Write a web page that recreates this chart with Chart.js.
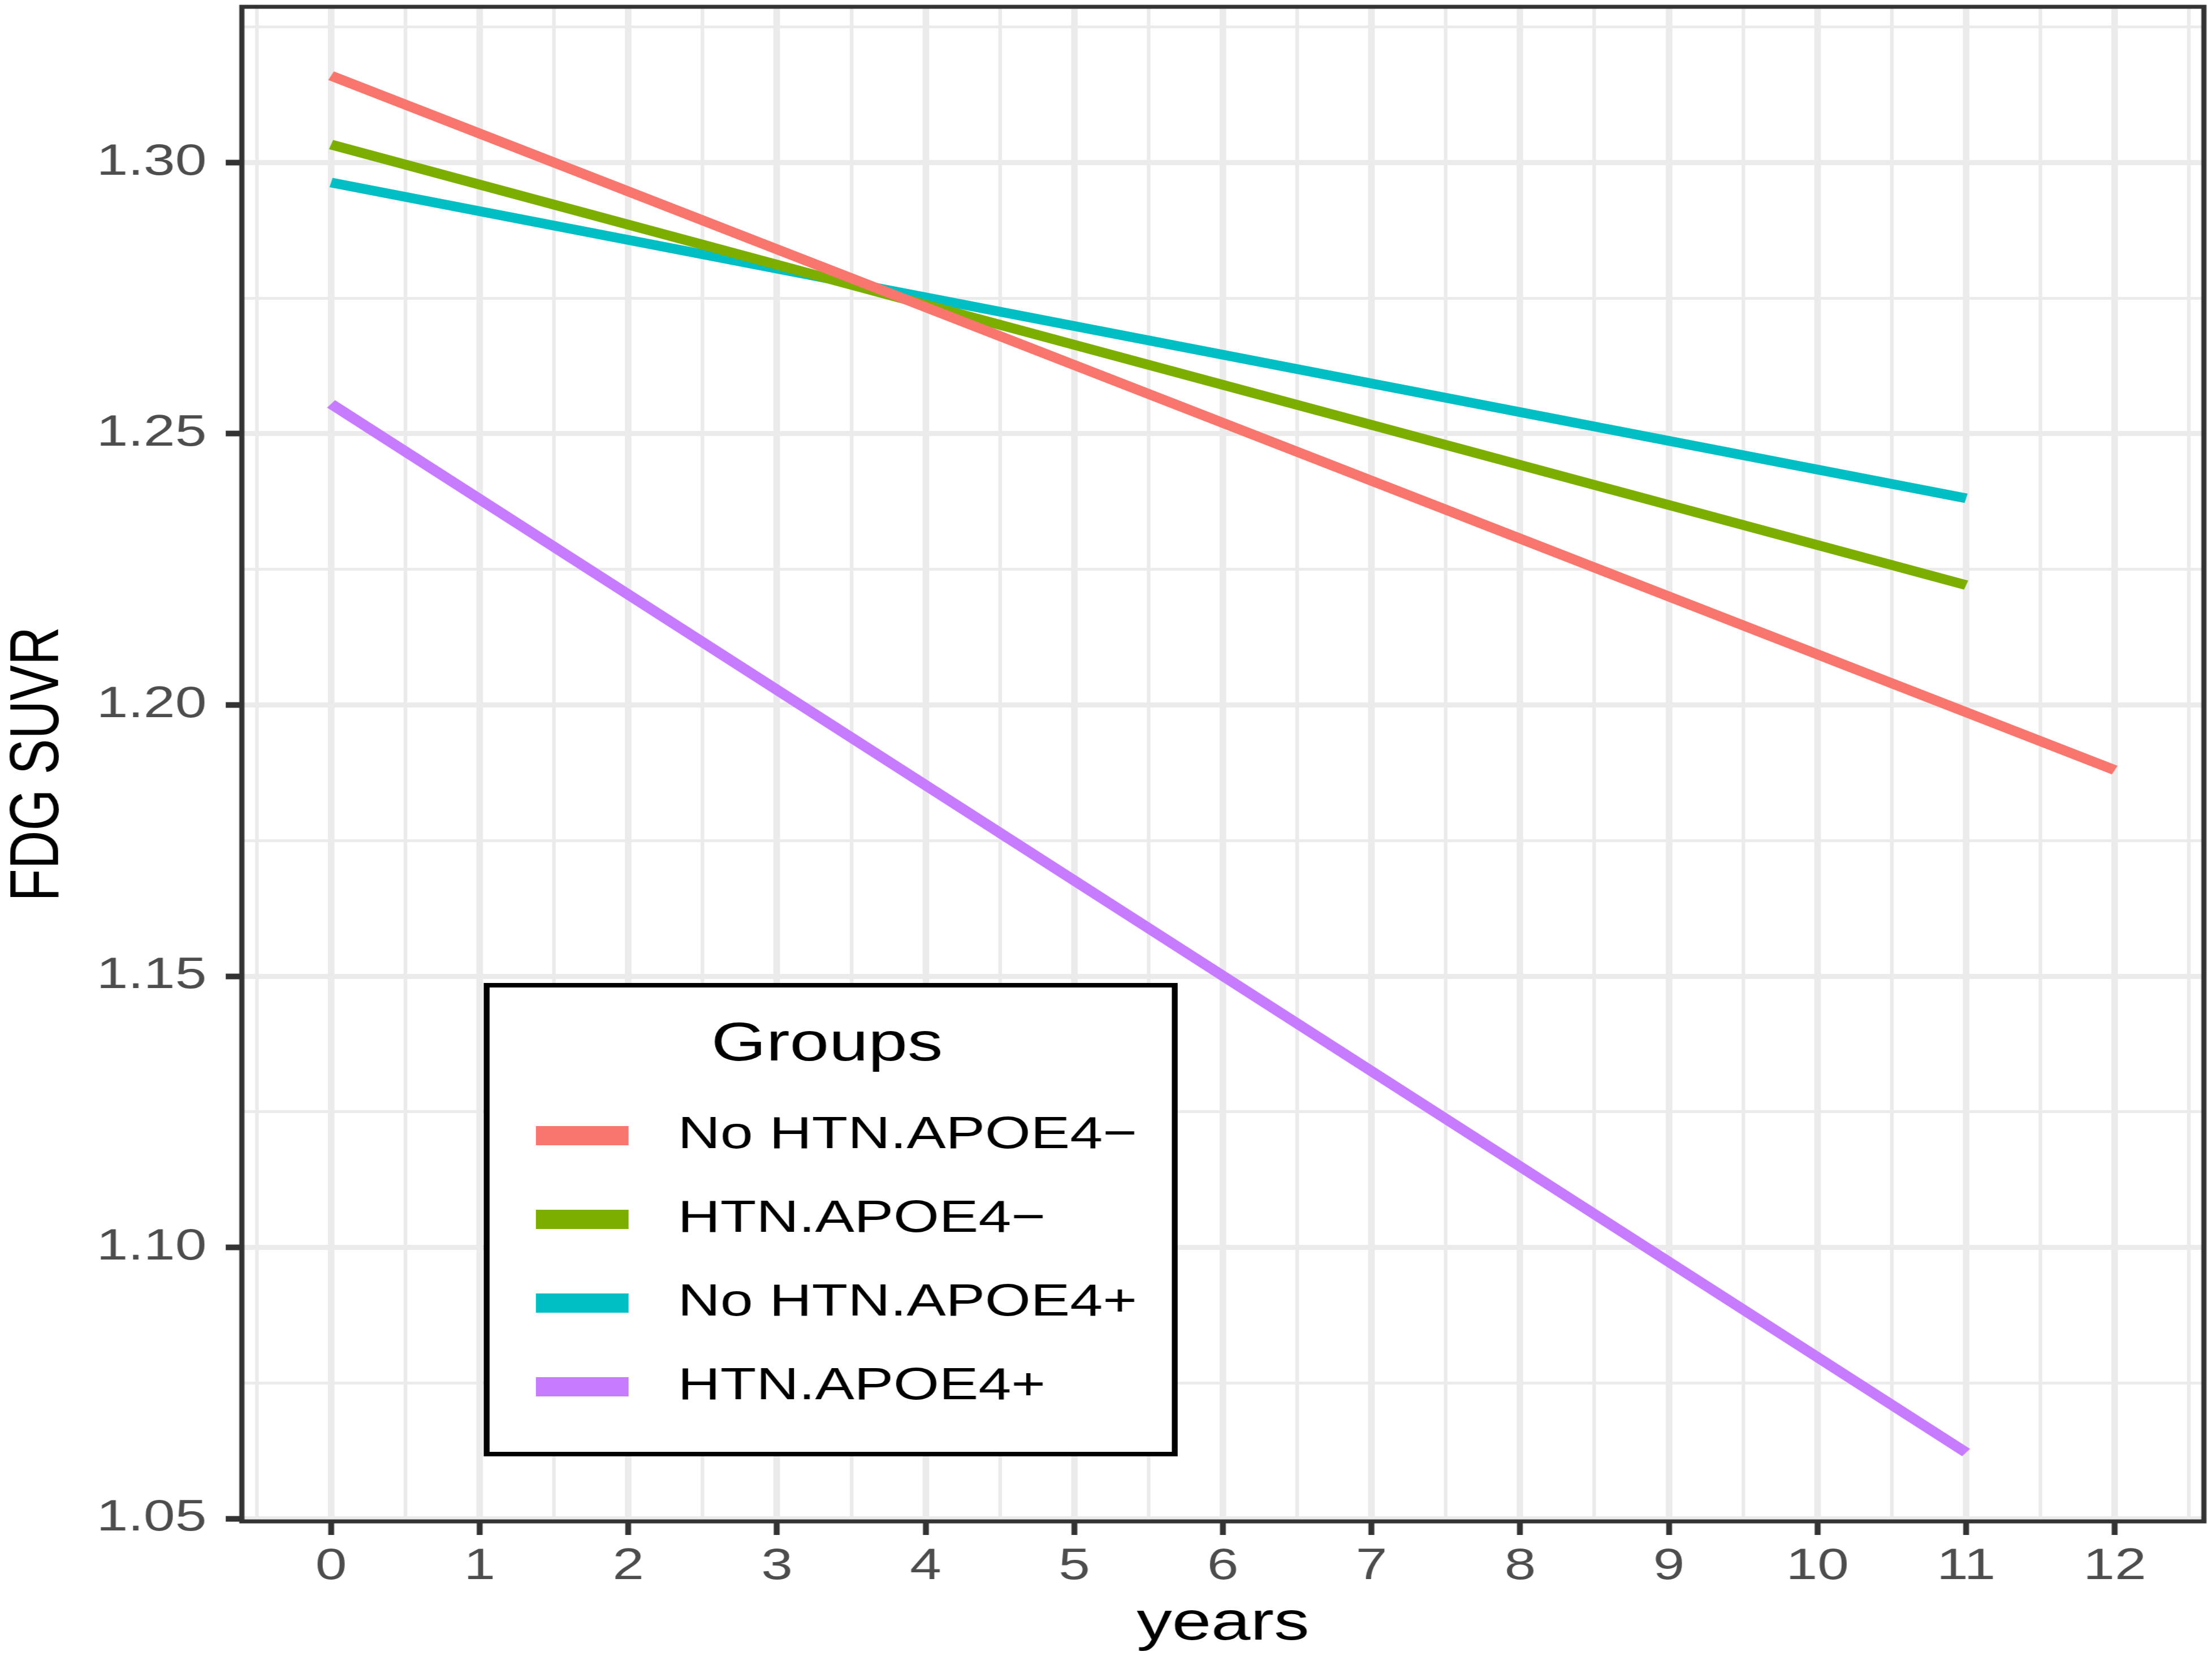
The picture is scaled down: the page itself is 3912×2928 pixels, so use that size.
<!DOCTYPE html>
<html>
<head>
<meta charset="utf-8">
<title>FDG SUVR by years</title>
<script src="https://cdn.jsdelivr.net/npm/chart.js@4.4.1/dist/chart.umd.min.js"></script>
<style>
  html, body { margin: 0; padding: 0; background: #ffffff; }
  /* the reference is stretched sideways, so the canvas is drawn narrower and scaled up by css */
  #fdg { display: block; width: 3912px; height: 2928px; }
</style>
</head>
<body>
<canvas id="fdg" width="3009" height="2928" style="width:3912px;height:2928px"></canvas>
<script>
// fitted lines at their two ends
const groups = ['No HTN.APOE4\u2212', 'HTN.APOE4\u2212', 'No HTN.APOE4+', 'HTN.APOE4+'];
const groupColors = ['#F8766D', '#7CAE00', '#00BFC4', '#C77CFF'];

const noHtnNegYears = [0, 12];
const noHtnNegSuvr = [1.316, 1.188];
const htnNegYears = [0, 11];
const htnNegSuvr = [1.3033, 1.2221];
const noHtnPosYears = [0, 11];
const noHtnPosSuvr = [1.2963, 1.2381];
const htnPosYears = [0, 11];
const htnPosSuvr = [1.2555, 1.0622];

const xTickLabels = ['0', '1', '2', '3', '4', '5', '6', '7', '8', '9', '10', '11', '12'];
const yTickLabels = ['1.05', '1.10', '1.15', '1.20', '1.25', '1.30'];

const xRange = [-0.6, 12.6];
const yRange = [1.0495, 1.3287];

const FONT = '"Liberation Sans", Arial, Helvetica, sans-serif';

const toPoints = (xs, ys) => xs.map((x, i) => ({ x: x, y: ys[i] }));
const seriesX = [noHtnNegYears, htnNegYears, noHtnPosYears, htnPosYears];
const seriesY = [noHtnNegSuvr, htnNegSuvr, noHtnPosSuvr, htnPosSuvr];

// major ticks from the labels, minor ones halfway between (ggplot style)
function gridTicks(labels, lo, hi) {
    const major = labels.map(Number);
    const step = major[1] - major[0];
    const minor = major.map(v => v - step / 2).concat([major[major.length - 1] + step / 2]);
    const all = major.concat(minor).filter(v => v >= lo && v <= hi);
    all.sort((a, b) => a - b);
    return { major, all };
}
const xGrid = gridTicks(xTickLabels, xRange[0], xRange[1]);
const yGrid = gridTicks(yTickLabels, yRange[0], yRange[1]);

const isMajor = (list, v) => list.some(m => Math.abs(m - v) < 1e-9);
const labelFor = (list, labels, v) => {
    const i = list.findIndex(m => Math.abs(m - v) < 1e-9);
    return i < 0 ? '' : labels[i];
};

const panelBorder = {
    id: 'panelBorder',
    afterDatasetsDraw(chart) {
        const a = chart.chartArea;
        const ctx = chart.ctx;
        ctx.save();
        ctx.strokeStyle = '#333333';
        ctx.lineWidth = 7;
        ctx.strokeRect(a.left, a.top, a.right - a.left, a.bottom - a.top);
        ctx.restore();
    }
};

const groupsLegend = {
    id: 'groupsLegend',
    afterDraw(chart) {
        const ctx = chart.ctx;
        ctx.save();
        ctx.fillStyle = '#ffffff';
        ctx.fillRect(662, 1742, 936, 829);
        ctx.strokeStyle = '#000000';
        ctx.lineWidth = 8;
        ctx.strokeRect(662, 1742, 936, 829);

        ctx.fillStyle = '#000000';
        ctx.font = '96px ' + FONT;
        ctx.textAlign = 'center';
        ctx.textBaseline = 'alphabetic';
        ctx.fillText('Groups', 1125, 1875);

        ctx.font = '80px ' + FONT;
        ctx.textAlign = 'left';
        ctx.textBaseline = 'middle';
        chart.data.datasets.forEach((ds, i) => {
            const y = 2008 + i * 148;
            ctx.fillStyle = ds.borderColor;
            ctx.fillRect(729, y - 17, 126, 34);
            ctx.fillStyle = '#000000';
            ctx.fillText(ds.label, 922, y);
        });
        ctx.restore();
    }
};

new Chart(document.getElementById('fdg'), {
    type: 'scatter',
    data: {
        datasets: groups.map((g, i) => ({
            label: g,
            data: toPoints(seriesX[i], seriesY[i]),
            showLine: true,
            borderColor: groupColors[i],
            backgroundColor: groupColors[i],
            borderWidth: 17,
            borderCapStyle: 'butt',
            pointRadius: 0,
            pointHoverRadius: 0
        }))
    },
    options: {
        responsive: false,
        animation: false,
        devicePixelRatio: 1,
        layout: { padding: { top: 12, right: 11, left: 0, bottom: 0 } },
        plugins: {
            legend: { display: false },
            tooltip: { enabled: false }
        },
        scales: {
            x: {
                type: 'linear',
                min: xRange[0],
                max: xRange[1],
                afterBuildTicks: (axis) => { axis.ticks = xGrid.all.map(v => ({ value: v })); },
                afterFit: (axis) => {
                    axis.height = 238;
                    axis.paddingLeft = 0;
                    axis.paddingRight = 0;
                },
                border: { display: false },
                grid: {
                    color: '#ebebeb',
                    lineWidth: (c) => isMajor(xGrid.major, c.tick.value) ? 9 : 5,
                    tickLength: 24,
                    tickWidth: 8,
                    tickColor: (c) => isMajor(xGrid.major, c.tick.value) ? '#333333' : 'rgba(0,0,0,0)'
                },
                ticks: {
                    autoSkip: false,
                    maxRotation: 0,
                    padding: 11,
                    color: '#4d4d4d',
                    font: { family: FONT, size: 77 },
                    callback: (v) => labelFor(xGrid.major, xTickLabels, v)
                },
                title: {
                    display: true,
                    text: 'years',
                    color: '#000000',
                    font: { family: FONT, size: 96, lineHeight: 1 },
                    padding: { top: 0, bottom: 7 }
                }
            },
            y: {
                type: 'linear',
                min: yRange[0],
                max: yRange[1],
                afterBuildTicks: (axis) => { axis.ticks = yGrid.all.map(v => ({ value: v })); },
                afterFit: (axis) => {
                    axis.width = 329;
                    axis.paddingTop = 0;
                    axis.paddingBottom = 0;
                },
                border: { display: false },
                grid: {
                    color: '#ebebeb',
                    lineWidth: (c) => isMajor(yGrid.major, c.tick.value) ? 9 : 5,
                    tickLength: 22,
                    tickWidth: 10,
                    tickColor: (c) => isMajor(yGrid.major, c.tick.value) ? '#333333' : 'rgba(0,0,0,0)'
                },
                ticks: {
                    autoSkip: false,
                    padding: 26,
                    color: '#4d4d4d',
                    font: { family: FONT, size: 77 },
                    callback: (v) => labelFor(yGrid.major, yTickLabels, v)
                },
                title: {
                    display: true,
                    text: 'FDG SUVR',
                    color: '#000000',
                    font: { family: FONT, size: 94, lineHeight: 1 },
                    padding: { top: 6, bottom: 0 }
                }
            }
        }
    },
    plugins: [panelBorder, groupsLegend]
});
</script>
</body>
</html>
